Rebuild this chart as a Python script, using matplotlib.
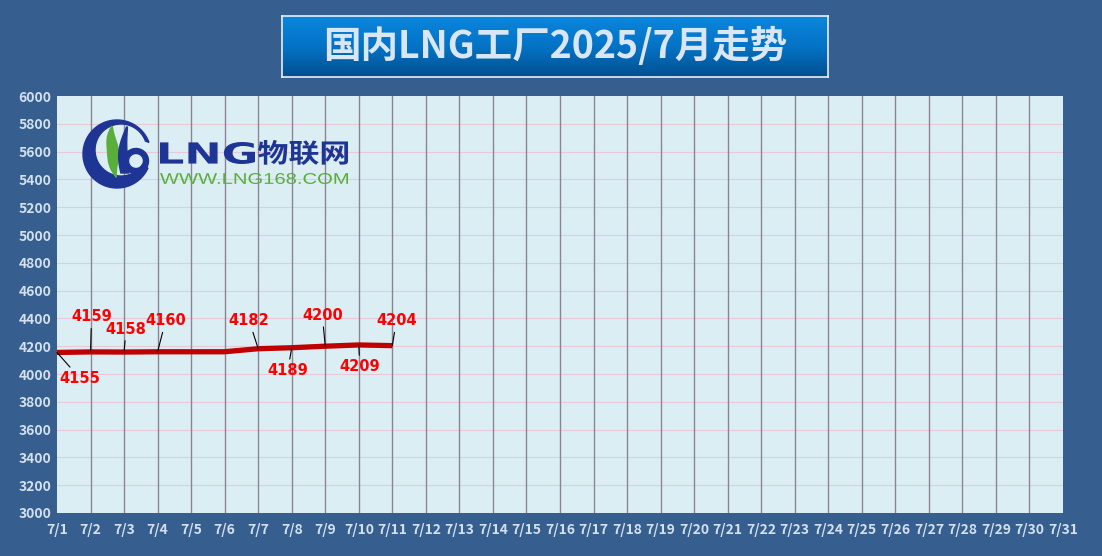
import numpy as np
import matplotlib
matplotlib.use("Agg")
import matplotlib.pyplot as plt
from matplotlib.patches import Wedge, Polygon, PathPatch
from matplotlib.textpath import TextPath
from matplotlib.font_manager import FontProperties
from matplotlib.transforms import Affine2D
from matplotlib.colors import LinearSegmentedColormap

plt.rcParams['font.family'] = ['Noto Sans CJK SC', 'DejaVu Sans']

# data
days = ["7/%d" % d for d in range(1, 32)]
prices = [4155, 4159, 4158, 4160, 4160, 4160, 4182, 4189, 4200, 4209, 4204]
label_idx = [0, 1, 2, 3, 6, 7, 8, 9, 10]
label_off = [(23, -26), (1, 35), (2, 23), (8, 31), (-9, 28), (-4, -23), (-3, 31), (1, -22), (4, 25)]
title = "国内LNG工厂2025/7月走势"

W, H = 1102, 556
BG = "#365f8f"
fig = plt.figure(figsize=(W / 100, H / 100), dpi=100, facecolor=BG)


def px_axes(x0, y0, x1, y1):
    # image pixel box -> figure axes
    return fig.add_axes([x0 / W, 1 - y1 / H, (x1 - x0) / W, (y1 - y0) / H])


# main chart
ax = px_axes(57, 96, 1063, 513)
ax.set_facecolor("#dbeef4")
x = np.arange(len(prices))
ax.plot(x, prices, color="#c00000", lw=3.8, solid_capstyle="butt",
        solid_joinstyle="round", zorder=3)
ax.set_xlim(0, 30)
ax.set_ylim(3000, 6000)
ax.set_xticks(np.arange(31))
ax.set_xticklabels(days)
ax.set_yticks(np.arange(3000, 6001, 200))
for t in ax.get_xticklabels() + ax.get_yticklabels():
    t.set_fontweight("bold")
    t.set_color("#d3e0ef")
    t.set_fontsize(10)
ax.tick_params(length=0, pad=4)
ax.tick_params(axis="x", pad=7)
for s in ax.spines.values():
    s.set_visible(False)
for d in range(1, 30):
    ax.axvline(d, color="#8c8494", lw=1.0, zorder=1)
for v in range(3200, 6000, 200):
    ax.axhline(v, color="#e9c9d8", lw=0.8, zorder=0.5)

for i, (dx, dy) in zip(label_idx, label_off):
    ax.annotate(str(prices[i]), (x[i], prices[i]), xytext=(dx, dy),
                textcoords="offset pixels", ha="center", va="center",
                color="#ff0000", fontsize=10.5, fontweight="bold",
                family="DejaVu Sans", zorder=5,
                arrowprops=dict(arrowstyle="-", color="black", lw=0.8,
                                shrinkA=1, shrinkB=0))

# title box
tax = px_axes(282, 16, 828, 77)
cmap = LinearSegmentedColormap.from_list("tb", ["#0a86dc", "#0473c6", "#02508f"])
tax.imshow(np.linspace(0, 1, 60).reshape(-1, 1), aspect="auto", cmap=cmap,
           extent=(0, 1, 0, 1), origin="upper")
tax.set_xticks([])
tax.set_yticks([])
for s in tax.spines.values():
    s.set_color("#e8eef6")
    s.set_linewidth(1.2)
tax.text(0.5, 0.5, title, ha="center", va="center", fontsize=27,
         fontweight="bold", color="#d9e6f5", transform=tax.transAxes)

# logo (pixel coords, y down)
lax = px_axes(70, 110, 360, 195)
lax.set_xlim(70, 360)
lax.set_ylim(195, 110)
lax.axis("off")
blue = "#1f3596"
green = "#5aae3c"

# crescent ring, open on the right
a = np.radians(np.linspace(25, 340, 120))
outer = np.column_stack([117 + 34 * np.cos(a), 154 + 34 * np.sin(a)])
inner = np.column_stack([121 + 26 * np.cos(a), 150 + 26 * np.sin(a)])
lax.add_patch(Polygon(np.vstack([outer, inner[::-1]]), closed=True, color=blue))

t = np.linspace(0, 1, 50)
# green leaf
gx = 112 + 4 * t - 4 * np.sin(np.pi * t) + 3 * np.sin(np.pi * t) ** 3
gy = 126 + 51 * t
gw = 5.5 * np.sin(np.pi * t) ** 0.9
lax.add_patch(Polygon(np.vstack([np.column_stack([gx - gw, gy]),
                                 np.column_stack([gx + gw, gy])[::-1]]),
                      closed=True, color=green))
# blue stem + loop
sx = 127 - 2 * t - 3 * np.sin(np.pi * t)
sy = 127 + 46 * t
sw = 4.5 * np.sin(np.pi * t * 0.6 + 0.1)
lax.add_patch(Polygon(np.vstack([np.column_stack([sx - sw, sy]),
                                 np.column_stack([sx + sw, sy])[::-1]]),
                      closed=True, color=blue))
lax.add_patch(Wedge((136, 161), 12.5, -150, 200, width=5, color=blue))


def fit_text(s, x0, y0, x1, y1, color, fp):
    p = TextPath((0, 0), s, size=1, prop=fp)
    b = p.get_extents()
    tr = Affine2D().translate(-b.x0, -b.y0).scale((x1 - x0) / b.width, -(y1 - y0) / b.height).translate(x0, y1)
    lax.add_patch(PathPatch(tr.transform_path(p), color=color, lw=0))


fit_text("LNG", 160, 142, 255, 164, blue, FontProperties(family="DejaVu Sans", weight="bold"))
fit_text("物联网", 258, 140, 348, 165, blue, FontProperties(family="Noto Sans CJK SC", weight="bold"))
fit_text("WWW.LNG168.COM", 160, 173, 348, 184, green, FontProperties(family="Liberation Sans"))

fig.savefig("out.png", dpi=100, facecolor=BG)
